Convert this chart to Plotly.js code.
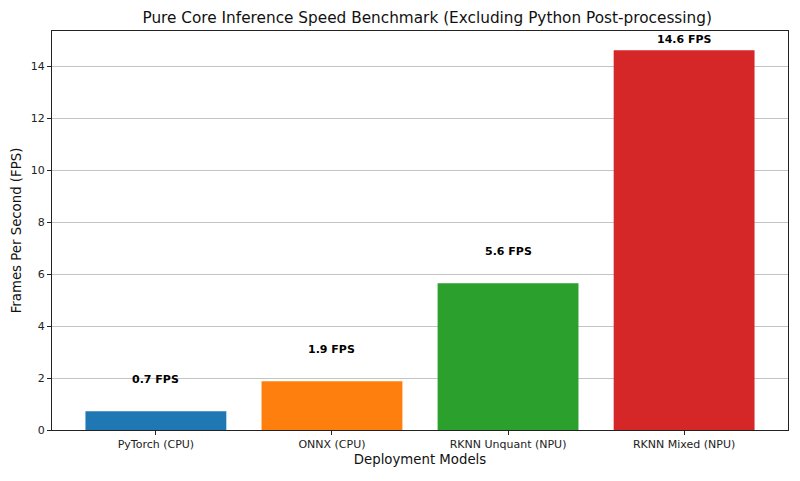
<!DOCTYPE html>
<html>
<head>
<meta charset="utf-8">
<script src="https://cdn.plot.ly/plotly-3.0.1.min.js"></script>
<style>
  html, body { margin: 0; padding: 0; background: #fff; }
  #chart { width: 800px; height: 481px; }
</style>
</head>
<body>
<div id="chart"></div>
<script>
// models benchmarked, in display order
var models = ["PyTorch (CPU)", "ONNX (CPU)", "RKNN Unquant (NPU)", "RKNN Mixed (NPU)"];
var fps = [0.72, 1.88, 5.65, 14.62];
// bar labels as printed
var fpsLabels = ["0.7 FPS", "1.9 FPS", "5.6 FPS", "14.6 FPS"];
var barColors = ["#1f77b4", "#ff7f0e", "#2ca02c", "#d62728"];

var font = "DejaVu Sans, Verdana, sans-serif";

// label sits a bit above each bar, kept inside the plot area
var annotations = [];
for (var i = 0; i < models.length; i++) {
    annotations.push({
        x: models[i],
        y: Math.min(fps[i] + 1.22, 15.02),
        xref: "x",
        yref: "y",
        text: "<b>" + fpsLabels[i] + "</b>",
        showarrow: false,
        yanchor: "middle",
        font: { family: font, size: 11, color: "#000" }
    });
}

var trace = {
    x: models,
    y: fps,
    type: "bar",
    width: 0.8,
    marker: { color: barColors, line: { width: 0 } },
    hoverinfo: "x+y"
};

var layout = {
    width: 800,
    height: 481,
    margin: { l: 52, r: 12, t: 31, b: 51 },
    paper_bgcolor: "#fff",
    plot_bgcolor: "#fff",
    font: { family: font, color: "#222" },
    showlegend: false,
    title: {
        text: "Pure Core Inference Speed Benchmark (Excluding Python Post-processing)",
        font: { family: font, size: 15.3, color: "#111" },
        x: 0.534,
        xanchor: "center",
        y: 1 - 18 / 481,
        yanchor: "middle"
    },
    xaxis: {
        range: [-0.59, 3.59],
        showline: true,
        mirror: true,
        linecolor: "#222",
        linewidth: 1,
        ticks: "outside",
        ticklen: 4,
        tickcolor: "#222",
        tickfont: { family: font, size: 11, color: "#222" },
        showgrid: false,
        zeroline: false,
        title: {
            text: "Deployment Models",
            font: { family: font, size: 13.3, color: "#111" },
            standoff: 4
        }
    },
    yaxis: {
        range: [0, 15.36],
        dtick: 2,
        showline: true,
        mirror: true,
        linecolor: "#222",
        linewidth: 1,
        ticks: "outside",
        ticklen: 4,
        tickcolor: "#222",
        tickfont: { family: font, size: 11, color: "#222" },
        showgrid: true,
        gridcolor: "#c4c4c4",
        gridwidth: 1,
        zeroline: false,
        title: {
            text: "Frames Per Second (FPS)",
            font: { family: font, size: 13.3, color: "#111" },
            standoff: 6
        }
    },
    annotations: annotations
};

Plotly.newPlot("chart", [trace], layout, { displayModeBar: false, staticPlot: true });
</script>
</body>
</html>
